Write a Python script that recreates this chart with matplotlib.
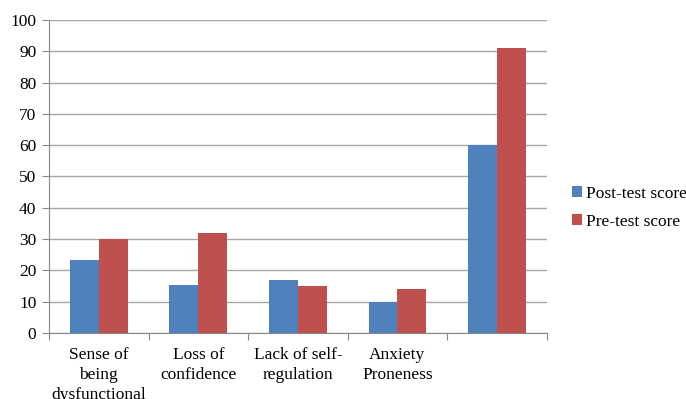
import numpy as np
import matplotlib.pyplot as plt

categories = ["Sense of\nbeing\ndysfunctional", "Loss of\nconfidence",
              "Lack of self-\nregulation", "Anxiety\nProneness", ""]
post_test = [23.4, 15.4, 17, 10, 60]
pre_test = [30, 32, 15, 14, 91]
yticks = list(range(0, 101, 10))


def main():
    plt.rcParams["font.family"] = "serif"
    plt.rcParams["font.serif"] = ["Liberation Serif", "DejaVu Serif"]
    fig = plt.figure(figsize=(6.86, 3.99), dpi=100)
    ax = fig.add_axes([0.0714, 0.1654, 0.7256, 0.7846])

    x = np.arange(len(categories))
    width = 0.29
    ax.bar(x - width / 2, post_test, width, color="#4F81BD",
           label="Post-test score", zorder=3)
    ax.bar(x + width / 2, pre_test, width, color="#C0504D",
           label="Pre-test score", zorder=3)

    ax.set_xlim(-0.5, len(categories) - 0.5)
    ax.set_ylim(0, 100)
    ax.set_yticks(yticks)
    ax.yaxis.grid(True, color="#A6A6A6", linewidth=1, zorder=0)

    # category boundaries carry the x tick marks, labels sit at centers
    ax.set_xticks(np.arange(len(categories) + 1) - 0.5)
    ax.set_xticklabels([])
    ax.set_xticks(x, minor=True)
    ax.set_xticklabels(categories, minor=True, fontsize=12.5,
                       linespacing=1.35)
    ax.tick_params(axis="x", which="minor", length=0, pad=10)
    ax.tick_params(axis="x", which="major", length=5, color="#888888")
    ax.tick_params(axis="y", length=5, color="#888888", labelsize=12.5,
                   pad=4)

    for side in ["top", "right"]:
        ax.spines[side].set_visible(False)
    for side in ["left", "bottom"]:
        ax.spines[side].set_color("#888888")

    ax.legend(loc="center left", bbox_to_anchor=(1.02, 0.40), frameon=False,
              fontsize=12.5, handlelength=0.55, handleheight=0.55,
              handletextpad=0.25, labelspacing=0.7)

    fig.savefig("out.png", dpi=100)


if __name__ == "__main__":
    main()
